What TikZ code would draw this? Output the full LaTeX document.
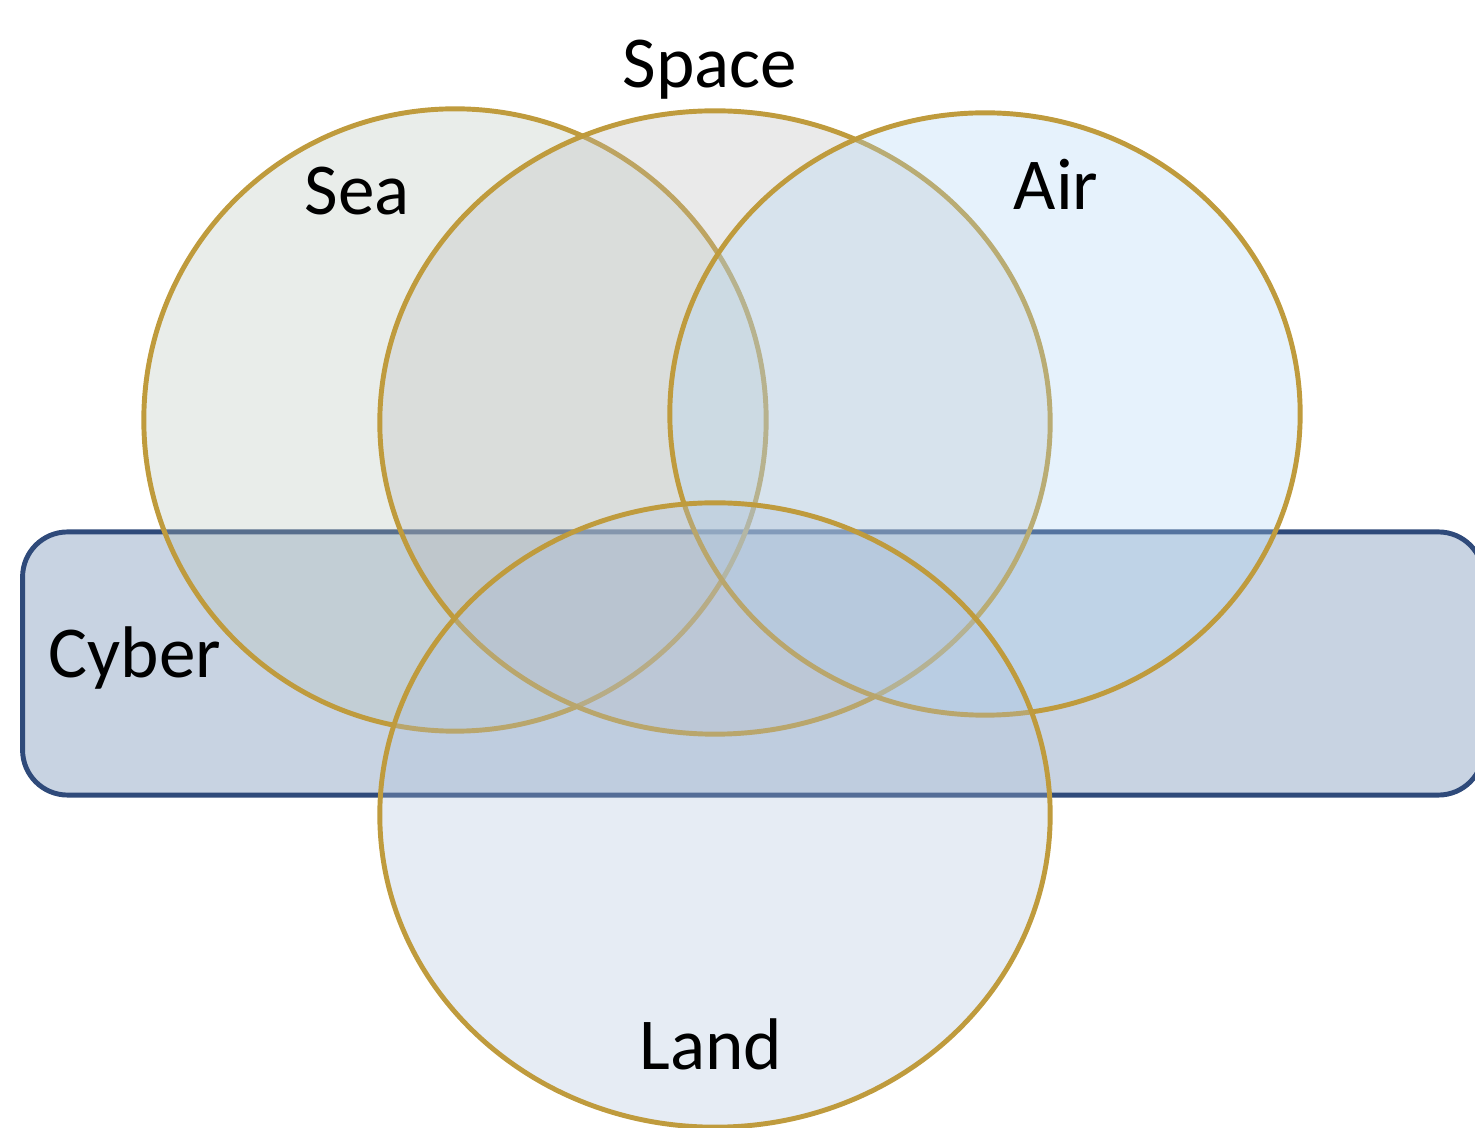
\documentclass[tikz,border=0pt]{standalone}
\usepackage{fontspec}
\setmainfont{Carlito}
\usetikzlibrary{shapes.geometric}
\definecolor{goldline}{RGB}{191,155,61}
\definecolor{cyberline}{RGB}{47,74,122}
\definecolor{cyberfill}{RGB}{200,211,226}
\definecolor{seafill}{RGB}{182,195,185}
\definecolor{spacefill}{RGB}{185,185,185}
\definecolor{airfill}{RGB}{172,212,245}
\definecolor{landfill}{RGB}{172,192,219}
\begin{document}
\begin{tikzpicture}[x=0.01cm,y=-0.01cm,
  vennset/.style={ellipse, draw=goldline, line width=1.4pt, fill opacity=0.3, draw opacity=1, inner sep=0pt, outer sep=0pt},
  lbl/.style={anchor=base, inner sep=0pt, font=\fontsize{20.8}{25}\selectfont, text=black}]
\useasboundingbox (0,0) rectangle (1475,1128);
\begin{scope}
\clip (0,0) rectangle (1475,1128);
\node[draw=cyberline, line width=1.4pt, fill=cyberfill, rounded corners=0.45cm, minimum width=14.6cm, minimum height=2.63cm, inner sep=0pt, outer sep=0pt] (cyber) at (753,663.5) {};
\node[vennset, fill=seafill, minimum width=6.22cm, minimum height=6.22cm] (sea) at (455,420) {};
\node[vennset, fill=spacefill, minimum width=6.70cm, minimum height=6.23cm] (space) at (715,422.5) {};
\node[vennset, fill=airfill, minimum width=6.30cm, minimum height=6.02cm] (air) at (985,414) {};
\node[vennset, fill=landfill, minimum width=6.70cm, minimum height=6.24cm] (land) at (715,815) {};
\end{scope}
\node[lbl] (tspace) at (710,88) {Space};
\node[lbl] (tsea) at (357,215) {Sea};
\node[lbl] (tair) at (1056,210) {Air};
\node[lbl] (tland) at (711,1070) {Land};
\node[lbl, anchor=base west] (tcyber) at (48,678) {Cyber};
\end{tikzpicture}
\end{document}
